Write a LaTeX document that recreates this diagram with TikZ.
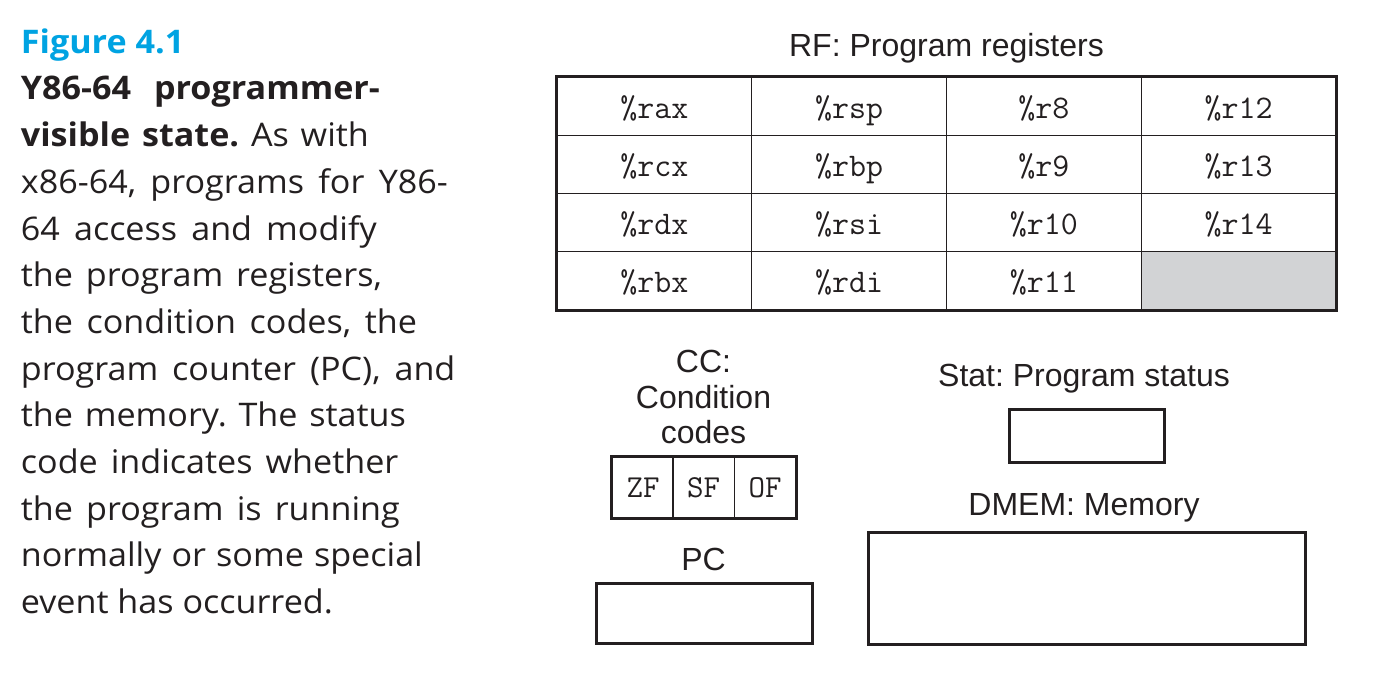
\documentclass[tikz,border=0pt]{standalone}
\usepackage{fontspec}
\setmainfont{Open Sans}[FakeStretch=1.05]
\newfontfamily\labelfont{Liberation Sans}
\setmonofont{Latin Modern Mono}
\frenchspacing
\definecolor{ink}{RGB}{35,31,32}
\definecolor{figblue}{RGB}{0,163,226}
\definecolor{cellgray}{RGB}{210,211,213}
\newcommand{\capfit}[2]{\makebox[#1pt][s]{#2}}
\begin{document}
\begin{tikzpicture}[x=1pt,y=-1pt,
  capline/.style={anchor=base west,inner sep=0pt,text=ink,font=\fontsize{32.5}{40}\selectfont},
  lbl/.style={anchor=base,inner sep=0pt,text=ink,font=\labelfont\fontsize{32}{36}\selectfont},
  reg/.style={draw=ink,line width=1.2pt,minimum width=194.75pt,minimum height=58.25pt,inner sep=0pt,text=ink,font=\ttfamily\fontsize{33}{36}\selectfont},
  flag/.style={draw=ink,line width=1.2pt,minimum width=61.5pt,minimum height=60pt,inner sep=0pt,text=ink,font=\ttfamily\fontsize{32}{36}\selectfont},
  frame/.style={draw=ink,line width=3pt},
]
\useasboundingbox (0,0) rectangle (1380,674);
% caption
\node[capline,text=figblue,font=\bfseries\fontsize{32.5}{40}\selectfont] (c0) at (20.7,53.3) {Figure 4.1};
\node[capline,font=\bfseries\fontsize{32.5}{40}\selectfont] (c1) at (20.7,100) {\capfit{359}{Y86-64 programmer-}};
\node[capline] (c2) at (20.7,146.7) {\capfit{348}{\textbf{visible state.} As with}};
\node[capline] (c3) at (20.7,193.3) {\capfit{427}{x86-64, programs for Y86-}};
\node[capline] (c4) at (20.7,240) {\capfit{356}{64 access and modify}};
\node[capline] (c5) at (20.7,286.7) {\capfit{361}{the program registers,}};
\node[capline] (c6) at (20.7,333.3) {\capfit{396}{the condition codes, the}};
\node[capline] (c7) at (20.7,380) {\capfit{434.5}{program counter (PC), and}};
\node[capline] (c8) at (20.7,426.7) {\capfit{385}{the memory. The status}};
\node[capline] (c9) at (20.7,473.3) {\capfit{377.5}{code indicates whether}};
\node[capline] (c10) at (20.7,520) {\capfit{379}{the program is running}};
\node[capline] (c11) at (20.7,566.7) {\capfit{402}{normally or some special}};
\node[capline] (c12) at (20.7,613.3) {event has occurred.};
% register file
\node[lbl] (rflbl) at (946.5,57) {RF: Program registers};
\foreach \name/\txt/\c/\r in {rax/rax/0/0,rsp/rsp/1/0,reight/r8/2/0,rtwelve/r12/3/0,
  rcx/rcx/0/1,rbp/rbp/1/1,rnine/r9/2/1,rthirteen/r13/3/1,
  rdx/rdx/0/2,rsi/rsi/1/2,rten/r10/2/2,rfourteen/r14/3/2,
  rbx/rbx/0/3,rdi/rdi/1/3,releven/r11/2/3}
  \node[reg,text depth=2pt] (\name) at ({557+97.375+194.75*\c},{77+29.125+58.25*\r}) {\raisebox{-3pt}{\%\txt}};
\node[reg,fill=cellgray] (rempty) at ({557+97.375+194.75*3},{77+29.125+58.25*3}) {};
\draw[frame] (rax.north west) rectangle (rempty.south east);
% condition codes
\node[lbl] (cc1) at (703.5,372) {CC:};
\node[lbl] (cc2) at (703.5,408) {Condition};
\node[lbl] (cc3) at (703.5,443) {codes};
\node[flag] (zf) at (643,487.5) {ZF};
\node[flag] (sf) at (703.5,487.5) {SF};
\node[flag] (of) at (765,487.5) {OF};
\draw[frame] (zf.north west) rectangle (of.south east);
% PC
\node[lbl] (pclbl) at (703.5,570) {PC};
\node[frame,minimum width=216pt,minimum height=60pt,inner sep=0pt] (pc) at (704,613) {};
% Stat
\node[lbl] (statlbl) at (1084,386.7) {Stat: Program status};
\node[frame,minimum width=155pt,minimum height=53pt,inner sep=0pt] (stat) at (1086.5,435.5) {};
% DMEM
\node[lbl] (memlbl) at (1084,515) {DMEM: Memory};
\node[frame,minimum width=437pt,minimum height=112pt,inner sep=0pt] (mem) at (1086.5,588) {};
\end{tikzpicture}
\end{document}
